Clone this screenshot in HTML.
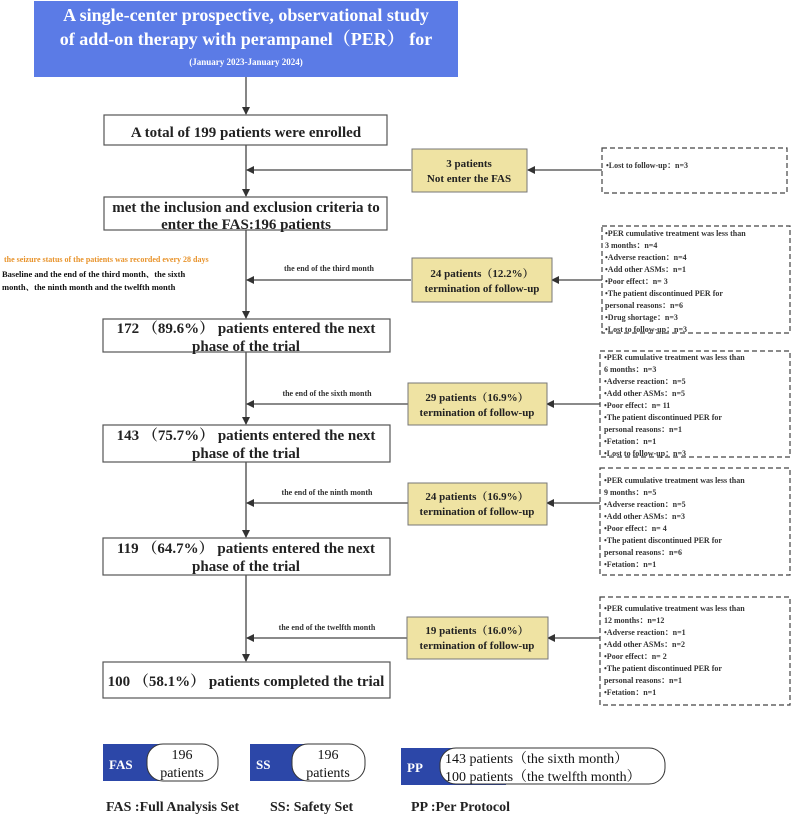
<!DOCTYPE html>
<html><head><meta charset="utf-8"><style>
html,body{margin:0;padding:0;background:#fff;}
svg{display:block;font-family:"Liberation Serif","Noto Serif CJK SC",serif;}
</style></head><body>
<svg width="797" height="817" viewBox="0 0 797 817" xmlns="http://www.w3.org/2000/svg">
<defs><marker id="a" markerWidth="8" markerHeight="8" refX="7" refY="4" orient="auto" markerUnits="userSpaceOnUse"><path d="M0,0 L8,4 L0,8 z" fill="#333"/></marker></defs>
<rect x="34" y="1" width="424" height="76" fill="#5b7be6"/>
<g fill="#fff" font-weight="bold" text-anchor="middle">
<text x="246" y="21" font-size="18">A single-center prospective, observational study</text>
<text x="246" y="45" font-size="18">of add-on therapy with perampanel（PER） for</text>
<text x="246" y="65" font-size="9">(January 2023-January 2024)</text>
</g>
<g stroke="#444" stroke-width="1.3" fill="none">
<line x1="246" y1="77" x2="246" y2="114" marker-end="url(#a)"/>
<line x1="246" y1="145" x2="246" y2="196" marker-end="url(#a)"/>
<line x1="246" y1="230" x2="246" y2="318" marker-end="url(#a)"/>
<line x1="246" y1="352" x2="246" y2="424" marker-end="url(#a)"/>
<line x1="246" y1="462" x2="246" y2="537" marker-end="url(#a)"/>
<line x1="246" y1="575" x2="246" y2="661" marker-end="url(#a)"/>
<line x1="411" y1="170" x2="247" y2="170" marker-end="url(#a)"/>
<line x1="602" y1="170" x2="528" y2="170" marker-end="url(#a)"/>
<line x1="411" y1="280" x2="247" y2="280" marker-end="url(#a)"/>
<line x1="602" y1="280" x2="552" y2="280" marker-end="url(#a)"/>
<line x1="408" y1="404" x2="247" y2="404" marker-end="url(#a)"/>
<line x1="600" y1="404" x2="547" y2="404" marker-end="url(#a)"/>
<line x1="408" y1="503" x2="247" y2="503" marker-end="url(#a)"/>
<line x1="600" y1="503" x2="547" y2="503" marker-end="url(#a)"/>
<line x1="407" y1="638" x2="247" y2="638" marker-end="url(#a)"/>
<line x1="600" y1="638" x2="548" y2="638" marker-end="url(#a)"/>
</g>
<g fill="#fff" stroke="#555" stroke-width="1.2">
<rect x="104" y="115" width="283" height="30"/>
<rect x="104" y="197" width="283" height="33"/>
<rect x="103" y="319" width="287" height="33"/>
<rect x="103" y="425" width="287" height="37"/>
<rect x="103" y="538" width="287" height="37"/>
<rect x="103" y="662" width="287" height="36"/>
</g>
<g fill="#efe3a3" stroke="#777" stroke-width="1">
<rect x="412" y="149" width="115" height="43"/>
<rect x="412" y="258" width="140" height="44"/>
<rect x="408" y="383" width="139" height="42"/>
<rect x="408" y="483" width="139" height="42"/>
<rect x="407" y="617" width="141" height="42"/>
</g>
<g fill="none" stroke="#444" stroke-width="1.2" stroke-dasharray="5,3">
<rect x="602" y="148" width="185" height="45"/>
<rect x="602" y="226" width="188" height="107"/>
<rect x="600" y="351" width="190" height="106"/>
<rect x="600" y="468" width="190" height="107"/>
<rect x="600" y="597" width="190" height="108"/>
</g>
<g font-weight="bold" fill="#222" text-anchor="middle" font-size="15">
<text x="246" y="137">A total of 199 patients were enrolled</text>
<text x="246" y="212">met the inclusion and exclusion criteria to</text>
<text x="246" y="229">enter the FAS:196 patients</text>
<text x="246" y="333">172 （89.6%） patients entered the next</text>
<text x="246" y="351">phase of the trial</text>
<text x="246" y="440">143 （75.7%） patients entered the next</text>
<text x="246" y="458">phase of the trial</text>
<text x="246" y="553">119 （64.7%） patients entered the next</text>
<text x="246" y="571">phase of the trial</text>
<text x="246" y="686">100 （58.1%） patients completed  the trial</text>
</g>
<g font-weight="bold" fill="#222" text-anchor="middle" font-size="11">
<text x="469" y="167">3 patients</text>
<text x="469" y="182">Not enter the FAS</text>
<text x="482" y="277">24 patients（12.2%）</text>
<text x="482" y="292">termination of follow-up</text>
<text x="477" y="401">29 patients（16.9%）</text>
<text x="477" y="416">termination of follow-up</text>
<text x="477" y="500">24 patients（16.9%）</text>
<text x="477" y="515">termination of follow-up</text>
<text x="477" y="634">19 patients（16.0%）</text>
<text x="477" y="649">termination of follow-up</text>
</g>
<g fill="#333" font-size="8" font-weight="bold" text-anchor="middle">
<text x="329" y="271">the end of the third month</text>
<text x="327" y="396">the end of the sixth month</text>
<text x="327" y="495">the end of the ninth month</text>
<text x="327" y="630">the end of the twelfth month</text>
</g>
<text x="4" y="262" fill="#e8932b" font-size="8" font-weight="bold">the seizure status of the patients was recorded every 28 days</text>
<g fill="#111" font-size="8.5" font-weight="bold">
<text x="2" y="277">Baseline and the end of the third month、the sixth</text>
<text x="2" y="290">month、the ninth month and the twelfth month</text>
</g>
<g fill="#333" font-size="8" font-weight="bold">
<text x="606" y="168">•Lost to follow-up：n=3</text>
<text x="605" y="236">•PER cumulative treatment was less than</text>
<text x="605" y="248">3 months：n=4</text>
<text x="605" y="260">•Adverse reaction：n=4</text>
<text x="605" y="272">•Add other ASMs：n=1</text>
<text x="605" y="284">•Poor effect：n= 3</text>
<text x="605" y="296">•The patient discontinued PER for</text>
<text x="605" y="308">personal reasons：n=6</text>
<text x="605" y="320">•Drug shortage：n=3</text>
<text x="605" y="332">•Lost to follow-up：n=3</text>
<text x="604" y="360">•PER cumulative treatment was less than</text>
<text x="604" y="372">6 months：n=3</text>
<text x="604" y="384">•Adverse reaction：n=5</text>
<text x="604" y="396">•Add other ASMs：n=5</text>
<text x="604" y="408">•Poor effect：n= 11</text>
<text x="604" y="420">•The patient discontinued PER for</text>
<text x="604" y="432">personal reasons：n=1</text>
<text x="604" y="444">•Fetation：n=1</text>
<text x="604" y="456">•Lost to follow-up：n=3</text>
<text x="604" y="483">•PER cumulative treatment was less than</text>
<text x="604" y="495">9 months：n=5</text>
<text x="604" y="507">•Adverse reaction：n=5</text>
<text x="604" y="519">•Add other ASMs：n=3</text>
<text x="604" y="531">•Poor effect：n= 4</text>
<text x="604" y="543">•The patient discontinued PER for</text>
<text x="604" y="555">personal reasons：n=6</text>
<text x="604" y="567">•Fetation：n=1</text>
<text x="604" y="611">•PER cumulative treatment was less than</text>
<text x="604" y="623">12 months：n=12</text>
<text x="604" y="635">•Adverse reaction：n=1</text>
<text x="604" y="647">•Add other ASMs：n=2</text>
<text x="604" y="659">•Poor effect：n= 2</text>
<text x="604" y="671">•The patient discontinued PER for</text>
<text x="604" y="683">personal reasons：n=1</text>
<text x="604" y="695">•Fetation：n=1</text>
</g>
<!-- legend -->
<rect x="103" y="744" width="60" height="37" fill="#2c47a8"/>
<rect x="147" y="744" width="71" height="37" rx="16" fill="#fff" stroke="#333"/>
<rect x="250" y="744" width="60" height="37" fill="#2c47a8"/>
<rect x="292" y="744" width="73" height="37" rx="16" fill="#fff" stroke="#333"/>
<rect x="401" y="748" width="105" height="37" fill="#2c47a8"/>
<rect x="440" y="748" width="225" height="36" rx="16" fill="#fff" stroke="#333"/>
<g fill="#fff" font-weight="bold" font-size="13">
<text x="109" y="769">FAS</text>
<text x="256" y="769">SS</text>
<text x="407" y="772">PP</text>
</g>
<g fill="#111" font-size="14" text-anchor="middle">
<text x="182" y="759">196</text>
<text x="182" y="777">patients</text>
<text x="328" y="759">196</text>
<text x="328" y="777">patients</text>
</g>
<g fill="#111" font-size="14">
<text x="445" y="763">143 patients（the sixth month）</text>
<text x="445" y="781">100 patients（the twelfth month）</text>
</g>
<g fill="#222" font-size="14" font-weight="bold">
<text x="106" y="811">FAS :Full Analysis Set</text>
<text x="270" y="811">SS: Safety Set</text>
<text x="411" y="811">PP :Per Protocol</text>
</g>
</svg>
</body></html>
